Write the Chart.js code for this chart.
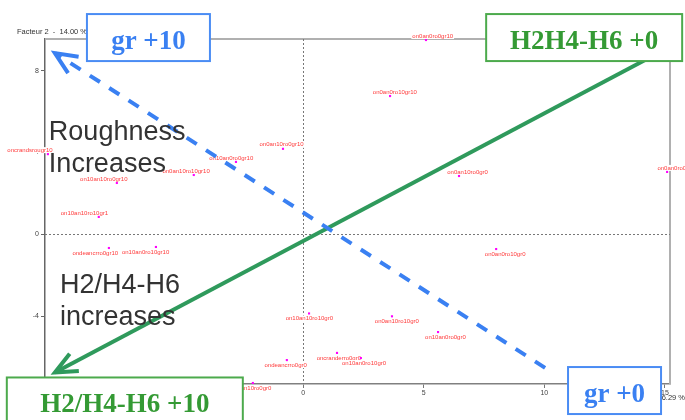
<!DOCTYPE html>
<html lang="fr">
<head>
<meta charset="UTF-8">
<title>Facteur 1 / Facteur 2</title>
<script src="https://cdn.jsdelivr.net/npm/chart.js"></script>
<style>
    body { margin: 0; background: #fff; }
    canvas { display: block; }
</style>
</head>
<body>
<canvas id="myChart" width="685" height="420"></canvas>
<script>
// individuals and their coordinates on factors 1 and 2
const pointLabels = [
    'on0an0ro0gr10', 'on0an0ro10gr10', 'on0an0ro0gr0', 'on0an10ro0gr0',
    'oncrandsrougr10', 'on10an10ro0gr10', 'on0an10ro10gr10', 'on10an0ro0gr10',
    'on0an10ro0gr10', 'on10an10ro10gr1', 'ondeancrro0gr10', 'on10an0ro10gr10',
    'on10an10ro10gr0', 'on0an10ro10gr0', 'on10an0ro0gr0', 'oncranderro0gr0',
    'on10an0ro10gr0', 'ondeancrro0gr0', 'on10an10ro0gr0', 'on0an0ro10gr0'
];
const factor1 = [5.09, 3.60, 15.09, 6.46, -10.59, -7.73, -4.54, -2.79, -0.84, -8.48,
    -8.06, -6.11, 0.24, 3.68, 5.59, 1.40, 2.39, -0.68, -2.09, 8.00];
const factor2 = [9.50, 6.76, 3.05, 2.85, 3.92, 2.51, 2.90, 3.54, 4.18, 0.85,
    -0.67, -0.62, -3.87, -4.01, -4.78, -5.80, -6.05, -6.15, -7.27, -0.72];

const xTicks = [-10, -5, 0, 5, 10, 15];
const yTicks = [-4, 0, 4, 8];
const xTitle = 'Facteur 1  -  26.29 %';
const yTitle = 'Facteur 2  -  14.00 %';

// trend arrows, [tail, head] in factor units
const roughArrow = [[10.03, -6.53], [-10.30, 8.86]];
const hArrow = [[14.47, 8.71], [-10.30, -6.76]];

// captions and boxed end labels
const captions = [['Roughness', 'Increases'], ['H2/H4-H6', 'increases']];
const captionAt = [[-10.55, 4.61], [-10.09, -2.87]];
const boxTexts = ['gr +10', 'H2H4-H6 +0', 'H2/H4-H6 +10', 'gr +0'];
const boxAt = [[-6.42, 9.62], [11.65, 9.62], [-7.40, -8.15], [12.91, -7.64]];

const BLUE = '#3a80f2';
const GREEN = '#2f9a5c';
const BOX_GREEN = '#349a34';

function drawArrow(ctx, x, y, pair, color, dash) {
    const x0 = x.getPixelForValue(pair[0][0]), y0 = y.getPixelForValue(pair[0][1]);
    const x1 = x.getPixelForValue(pair[1][0]), y1 = y.getPixelForValue(pair[1][1]);
    ctx.save();
    ctx.strokeStyle = color;
    ctx.lineWidth = 4;
    ctx.setLineDash(dash);
    ctx.beginPath();
    ctx.moveTo(x0, y0);
    ctx.lineTo(x1, y1);
    ctx.stroke();
    // head
    const back = Math.atan2(y0 - y1, x0 - x1);
    const len = 24, spread = 24 * Math.PI / 180;
    ctx.setLineDash([]);
    ctx.lineJoin = 'miter';
    ctx.beginPath();
    ctx.moveTo(x1 + len * Math.cos(back - spread), y1 + len * Math.sin(back - spread));
    ctx.lineTo(x1, y1);
    ctx.lineTo(x1 + len * Math.cos(back + spread), y1 + len * Math.sin(back + spread));
    ctx.stroke();
    ctx.restore();
}

const factorPlot = {
    id: 'factorPlot',
    beforeDatasetsDraw(chart) {
        const { ctx, chartArea: a, scales: { x, y } } = chart;
        ctx.save();
        // frame top + right
        ctx.strokeStyle = '#b0b0b0';
        ctx.lineWidth = 2;
        ctx.beginPath();
        ctx.moveTo(a.left, a.top);
        ctx.lineTo(a.right, a.top);
        ctx.lineTo(a.right, a.bottom);
        ctx.stroke();
        // zero lines
        ctx.strokeStyle = '#777';
        ctx.lineWidth = 1;
        ctx.setLineDash([2, 2]);
        const x0 = Math.round(x.getPixelForValue(0)) + 0.5;
        const y0 = Math.round(y.getPixelForValue(0)) + 0.5;
        ctx.beginPath();
        ctx.moveTo(x0, a.top); ctx.lineTo(x0, a.bottom);
        ctx.moveTo(a.left, y0); ctx.lineTo(a.right, y0);
        ctx.stroke();
        ctx.setLineDash([]);
        // point labels, white backed
        ctx.font = '6px "Liberation Sans", Arial, sans-serif';
        ctx.textAlign = 'center';
        ctx.textBaseline = 'middle';
        chart.getDatasetMeta(0).data.forEach((pt, i) => {
            const d = pt.x - x0;
            const shift = Math.max(-19, Math.min(9, d * (d < 0 ? 0.07 : 0.055)));
            const lx = pt.x + shift;
            const ly = factor2[i] >= 0 ? pt.y - 4 : pt.y + 5;
            const w = ctx.measureText(pointLabels[i]).width;
            ctx.fillStyle = '#fff';
            ctx.fillRect(lx - w / 2 - 1, ly - 3, w + 2, 6);
            ctx.fillStyle = '#ff3a3a';
            ctx.fillText(pointLabels[i], lx, ly);
        });
        ctx.restore();
    },
    afterDatasetsDraw(chart) {
        const { ctx, chartArea: a, scales: { x, y } } = chart;
        drawArrow(ctx, x, y, hArrow, GREEN, []);
        drawArrow(ctx, x, y, roughArrow, BLUE, [12, 11]);

        ctx.save();
        // captions
        ctx.fillStyle = '#333';
        ctx.font = '27px "Liberation Sans", Arial, sans-serif';
        ctx.textAlign = 'left';
        ctx.textBaseline = 'alphabetic';
        captions.forEach((lines, i) => {
            const cx = x.getPixelForValue(captionAt[i][0]);
            const cy = y.getPixelForValue(captionAt[i][1]);
            lines.forEach((t, j) => ctx.fillText(t, cx, cy + j * 32));
        });
        // axis titles
        ctx.font = '7.5px "Liberation Sans", Arial, sans-serif';
        ctx.fillStyle = '#333';
        ctx.fillText(yTitle, a.left - 28, a.top - 5);
        ctx.textAlign = 'right';
        ctx.fillText(xTitle, chart.width, a.bottom + 16);
        // boxes
        const widths = [123, 196, 236, 93];
        const colors = [BLUE, BOX_GREEN, BOX_GREEN, BLUE];
        ctx.font = 'bold 27px "Liberation Serif", "Times New Roman", serif';
        ctx.textAlign = 'center';
        boxTexts.forEach((t, i) => {
            const bx = x.getPixelForValue(boxAt[i][0]);
            const by = y.getPixelForValue(boxAt[i][1]);
            const w = widths[i], h = 47;
            ctx.fillStyle = '#fff';
            ctx.fillRect(bx - w / 2, by - h / 2, w, h);
            ctx.strokeStyle = i % 3 === 0 ? '#4a8cf4' : '#4caa4c';
            ctx.lineWidth = 2;
            ctx.strokeRect(bx - w / 2, by - h / 2, w, h);
            ctx.fillStyle = colors[i];
            ctx.fillText(t, bx, by + 11);
        });
        ctx.restore();
    }
};

const tickFont = { size: 7, family: '"Liberation Sans", Arial, sans-serif' };

new Chart(document.getElementById('myChart'), {
    type: 'scatter',
    data: {
        datasets: [{
            data: factor1.map((v, i) => ({ x: v, y: factor2[i] })),
            pointStyle: 'rect',
            pointRadius: 1.5,
            pointBackgroundColor: '#ff00ff',
            pointBorderWidth: 0
        }]
    },
    options: {
        responsive: false,
        animation: false,
        layout: { padding: { top: 39, right: 15, left: 0, bottom: 0 } },
        plugins: { legend: { display: false }, tooltip: { enabled: false } },
        scales: {
            x: {
                type: 'linear',
                min: -10.71, max: 15.21,
                afterBuildTicks: s => { s.ticks = xTicks.map(v => ({ value: v })); },
                afterFit: s => { s.height = 36; },
                grid: { drawOnChartArea: false, tickLength: 4, color: '#777' },
                border: { color: '#808080', width: 1.5 },
                ticks: { font: tickFont, color: '#444', padding: 1, maxRotation: 0, autoSkip: false }
            },
            y: {
                type: 'linear',
                min: -7.32, max: 9.55,
                afterBuildTicks: s => { s.ticks = yTicks.map(v => ({ value: v })); },
                afterFit: s => { s.width = 45; },
                grid: { drawOnChartArea: false, tickLength: 4, color: '#666' },
                border: { color: '#666', width: 1.5 },
                ticks: { font: tickFont, color: '#444', padding: 2, autoSkip: false }
            }
        }
    },
    plugins: [factorPlot]
});
</script>
</body>
</html>
